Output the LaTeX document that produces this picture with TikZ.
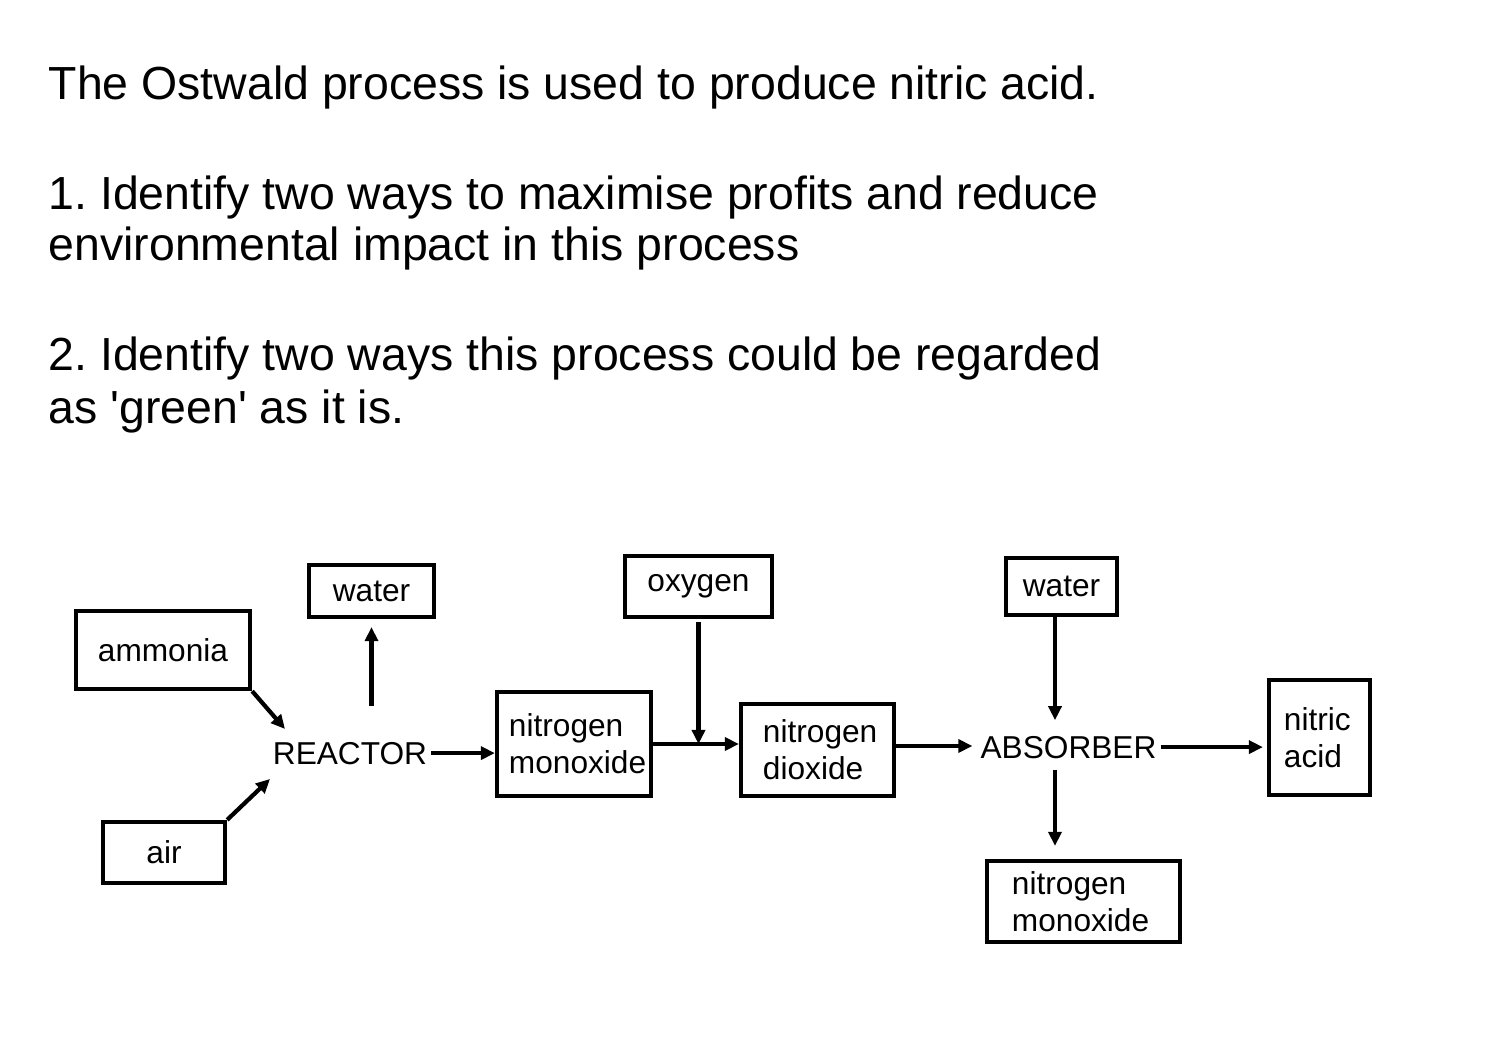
\documentclass[tikz,border=0pt]{standalone}
\usepackage{fontspec}
\setmainfont{Liberation Sans}[Ligatures=TeXOff]
\usetikzlibrary{arrows.meta}
\frenchspacing

\tikzset{
    box/.style={draw, line width=1.2pt, inner sep=0pt, font=\fontsize{9}{10.5}\selectfont},
    proc/.style={inner sep=1pt, anchor=base, font=\fontsize{9}{10.5}\selectfont},
    qtext/.style={anchor=base west, inner sep=0pt, font=\fontsize{13.2}{15}\selectfont},
    flow/.style={line width=1.2pt, -{Triangle[length=0.14cm,width=0.13cm]}}
}

\begin{document}
\begin{tikzpicture}[x=0.01cm,y=-0.01cm]
                \useasboundingbox[fill=white] (0,0) rectangle (1494,1040);

                \node[qtext] (q0) at (48,100) {The Ostwald process is used to produce nitric acid.};
                \node[qtext] (q1) at (48,210) {1. Identify two ways to maximise profits and reduce};
                \node[qtext] (q1b) at (48,261) {environmental impact in this process};
                \node[qtext] (q2) at (48,371) {2. Identify two ways this process could be regarded};
                \node[qtext] (q2b) at (48,423) {as 'green' as it is.};

                \node[box, minimum width=1.25cm, minimum height=0.52cm] (wtr1) at (371.5,591) {water};
                \node[box, minimum width=1.74cm, minimum height=0.78cm] (nh3) at (163,650) {ammonia};
                \node[box, minimum width=1.22cm, minimum height=0.61cm] (air) at (164,852.5) {air};
                \node[proc] (reactor) at (350,764) {REACTOR};

                \node[box, minimum width=1.54cm, minimum height=1.04cm, text width=1.30cm, align=left] (nm1) at (574,744) {nitrogen\\monoxide};
                \node[box, minimum width=1.47cm, minimum height=0.61cm] (oxy) at (698.5,586.5) {oxygen};
                \node[box, minimum width=1.53cm, minimum height=0.92cm, text width=1.09cm, align=left] (nd) at (817.5,750) {nitrogen\\dioxide};

                \node[box, minimum width=1.11cm, minimum height=0.57cm] (wtr2) at (1061.5,586.5) {water};
                \node[proc] (absorber) at (1068.5,758) {ABSORBER};
                \node[box, minimum width=1.01cm, minimum height=1.15cm, text width=0.71cm, align=left] (acid) at (1319.5,737.5) {nitric\\acid};
                \node[box, minimum width=1.93cm, minimum height=0.81cm, text width=1.43cm, align=left] (nm2) at (1083.5,901.5) {nitrogen\\monoxide};

                \coordinate (nh3in) at (285,729);
                \coordinate (airin) at (270,779);

                \draw[flow] (nh3.south east) -- (nh3in);
                \draw[flow] (air.north east) -- (airin);
                \draw[flow, shorten <=0.32cm, shorten >=0.08cm] (reactor.north -| wtr1.south) -- (wtr1.south);
                \draw[flow] (reactor.east) -- (nm1.west |- reactor.east);

                \draw[flow] (nm1.east) -- (nm1.east -| nd.west);
                \draw[flow, shorten <=0.03cm] (oxy.south) -- (oxy.south |- nm1.east);
                \draw[flow, shorten >=0.04cm] ([yshift=0.04cm]nd.east) -- ([yshift=0.04cm]absorber.west |- nd.east);

                \draw[flow, shorten >=0.115cm] ([xshift=-0.065cm]wtr2.south) -- ([xshift=-0.065cm]wtr2.south |- absorber.north);
                \draw[flow, shorten >=0.04cm] (absorber.east) -- (absorber.east -| acid.west);
                \draw[flow, shorten <=0.07cm, shorten >=0.13cm] ([xshift=-0.135cm]absorber.south) -- ([xshift=-0.135cm]absorber.south |- nm2.north);
            \end{tikzpicture}
\end{document}
